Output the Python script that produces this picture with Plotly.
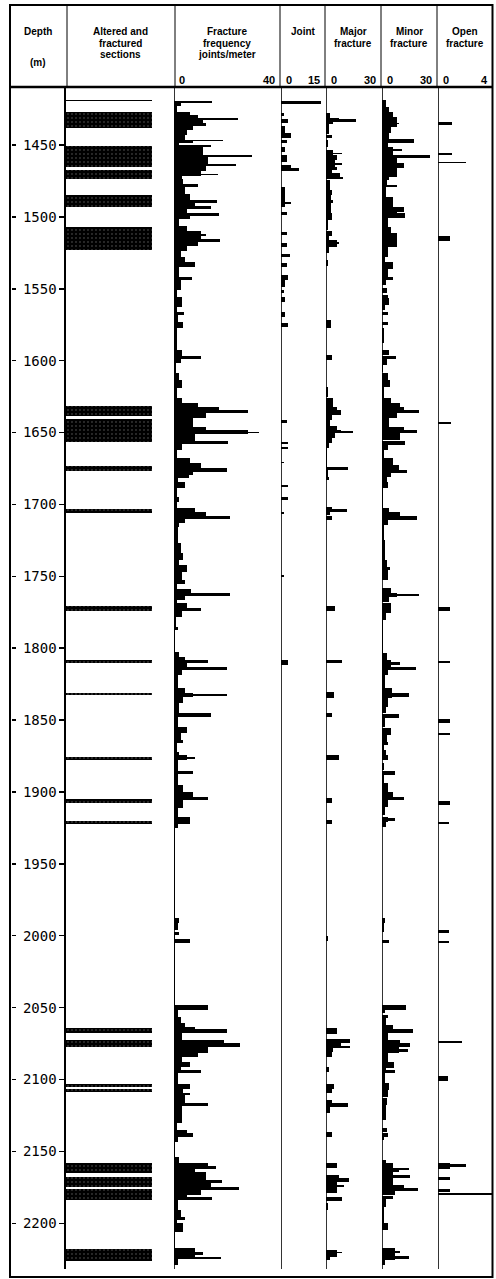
import plotly.graph_objects as go

# ---------------- data (depth in m) ----------------
DEPTH_TICKS = [1450, 1500, 1550, 1600, 1650, 1700, 1750, 1800, 1850, 1900,
               1950, 2000, 2050, 2100, 2150, 2200]

# Altered and fractured sections: (top, bottom)
ALTERED = [
    (1418.5, 1419.4), (1426.8, 1438.4), (1450.7, 1465.5), (1467.4, 1473.6),
    (1484.8, 1492.9), (1506.8, 1523.0), (1631.5, 1638.5), (1640.8, 1656.4),
    (1673.3, 1676.8), (1703.4, 1706.2), (1770.7, 1773.9), (1808.2, 1810.1),
    (1831.4, 1832.8), (1875.4, 1877.8), (1905.1, 1907.4), (1919.9, 1922.3),
    (2064.4, 2067.4), (2072.5, 2077.6), (2103.3, 2105.0), (2106.8, 2108.4),
    (2158.3, 2164.8), (2167.6, 2174.5), (2176.2, 2183.8), (2218.1, 2226.0),
]

# Fracture frequency, joints/meter: (top, bottom, value)
FRAC_FREQ = [
    (1419.1, 1420.9, 14.2), (1420.9, 1423.0, 2.5), (1423.0, 1426.8, 1.0),
    (1426.8, 1429.1, 6), (1429.1, 1431.4, 9), (1431.4, 1432.6, 24.3),
    (1432.6, 1434.8, 11), (1434.8, 1437.1, 12), (1437.1, 1439.5, 7),
    (1439.5, 1442.9, 5), (1442.9, 1446.4, 4), (1446.4, 1447.5, 18.4),
    (1447.5, 1448.4, 7), (1448.4, 1450.0, 2), (1450.0, 1451.2, 14),
    (1451.2, 1457.0, 11), (1457.0, 1458.6, 29.6), (1458.6, 1463.4, 13),
    (1463.4, 1464.6, 23.4), (1464.6, 1468.1, 12), (1468.1, 1471.6, 10),
    (1470.4, 1471.2, 16.7), (1471.6, 1473.9, 3), (1473.9, 1478.5, 3.5),
    (1477.4, 1479.1, 9.2), (1478.5, 1484.3, 4), (1484.3, 1488.2, 6),
    (1488.2, 1490.0, 16.4), (1490.0, 1492.3, 8), (1492.3, 1494.7, 13.8),
    (1494.7, 1497.0, 5), (1497.0, 1499.3, 17), (1499.3, 1501.6, 6),
    (1501.6, 1506.3, 2), (1506.3, 1509.7, 5), (1509.7, 1515.5, 10),
    (1512.2, 1513.2, 12), (1515.5, 1517.8, 17.4), (1517.8, 1520.1, 9),
    (1520.1, 1523.6, 5), (1523.6, 1528.2, 2.5), (1528.2, 1531.2, 4),
    (1531.2, 1535.1, 8), (1535.1, 1541.5, 2), (1541.5, 1543.9, 6.9),
    (1543.9, 1550.8, 2.5), (1550.8, 1555.5, 1), (1555.5, 1562.4, 3),
    (1562.4, 1566.0, 1), (1566.0, 1568.2, 3.6), (1568.2, 1572.8, 1.5),
    (1572.8, 1577.5, 3.5), (1577.5, 1592.5, 1), (1592.5, 1597.0, 3),
    (1597.0, 1599.0, 10), (1599.0, 1601.8, 2.5), (1601.8, 1608.8, 0.8),
    (1608.8, 1613.4, 2), (1613.4, 1619.2, 3.2), (1619.2, 1626.0, 1),
    (1626.0, 1629.6, 3), (1629.6, 1632.0, 9), (1632.0, 1634.3, 17),
    (1634.3, 1636.3, 28), (1636.3, 1640.0, 12), (1640.0, 1645.9, 7),
    (1645.9, 1648.2, 12), (1648.2, 1651.0, 28), (1649.4, 1650.5, 32.2),
    (1651.0, 1655.6, 8), (1655.6, 1658.0, 20.3), (1658.0, 1662.0, 3),
    (1662.0, 1668.0, 1), (1668.0, 1671.4, 6), (1671.4, 1674.9, 10),
    (1674.9, 1677.2, 19.9), (1677.2, 1679.5, 7), (1679.5, 1681.8, 5.8),
    (1681.8, 1684.1, 1.5), (1684.1, 1688.8, 4), (1688.8, 1694.6, 1),
    (1694.6, 1698.0, 2), (1698.0, 1702.7, 1), (1702.7, 1705.0, 8),
    (1705.0, 1708.0, 12), (1708.0, 1710.4, 21), (1710.4, 1713.2, 4),
    (1713.2, 1715.5, 2), (1715.5, 1727.0, 1.5), (1727.0, 1734.0, 2.5),
    (1734.0, 1738.7, 3.5), (1738.7, 1742.2, 2), (1742.2, 1746.8, 5),
    (1746.8, 1752.6, 3), (1752.6, 1755.0, 4), (1755.0, 1759.1, 1),
    (1759.1, 1761.9, 6.5), (1761.9, 1763.7, 21), (1763.7, 1766.5, 4),
    (1766.5, 1768.8, 1), (1768.8, 1772.3, 5), (1772.3, 1774.0, 10),
    (1774.0, 1778.1, 3), (1778.1, 1785.0, 0.8), (1785.0, 1787.4, 1.5),
    (1787.4, 1802.5, 0.5), (1802.5, 1806.0, 2), (1806.0, 1808.3, 4),
    (1808.3, 1810.6, 13), (1810.6, 1812.9, 5), (1812.9, 1815.2, 20),
    (1815.2, 1818.7, 3), (1818.7, 1828.0, 1.5), (1828.0, 1831.4, 4),
    (1831.4, 1834.2, 7), (1832.0, 1833.4, 20), (1834.2, 1838.4, 3.5),
    (1838.4, 1845.4, 2), (1845.4, 1848.1, 14), (1848.1, 1854.6, 1.5),
    (1854.6, 1859.3, 5), (1859.3, 1863.9, 2.5), (1863.9, 1866.2, 3.5),
    (1866.2, 1872.0, 1), (1872.0, 1874.3, 2), (1874.3, 1877.8, 5),
    (1875.4, 1877.1, 8), (1877.8, 1885.2, 1.5), (1885.2, 1887.5, 7),
    (1887.5, 1895.2, 1.5), (1895.2, 1899.8, 3.5), (1899.8, 1903.3, 7),
    (1903.3, 1905.6, 13), (1905.6, 1911.4, 3.5), (1911.4, 1917.2, 1.5),
    (1917.2, 1922.3, 6), (1922.3, 1925.3, 1.5), (1925.3, 1988.0, 0.3),
    (1988.0, 1991.4, 2), (1991.4, 1996.0, 1.5), (1997.2, 1999.5, 2),
    (1999.5, 2002.5, 0.5), (2002.5, 2005.3, 6), (2005.3, 2048.2, 0.3),
    (2048.2, 2051.7, 13), (2051.7, 2056.3, 1.5), (2056.3, 2061.0, 2.5),
    (2061.0, 2063.5, 4), (2063.5, 2065.1, 8), (2065.1, 2067.9, 20),
    (2067.9, 2072.5, 3), (2072.5, 2074.9, 19), (2074.9, 2077.6, 25),
    (2077.6, 2081.8, 13), (2081.8, 2084.1, 9), (2084.1, 2087.6, 3),
    (2087.6, 2091.1, 6), (2091.1, 2093.4, 2.5), (2093.4, 2095.3, 10),
    (2095.3, 2103.1, 1.5), (2103.1, 2106.8, 6), (2106.8, 2109.6, 3.5),
    (2109.6, 2111.0, 6), (2111.0, 2116.1, 4), (2116.1, 2118.4, 13),
    (2118.4, 2127.0, 3), (2127.0, 2130.0, 3), (2130.0, 2135.0, 1),
    (2135.0, 2137.4, 5), (2137.4, 2139.7, 7), (2139.7, 2143.2, 1.5),
    (2143.2, 2153.7, 0.5), (2153.7, 2158.3, 2), (2158.3, 2161.8, 13),
    (2160.5, 2162.5, 16), (2161.8, 2164.0, 8), (2164.0, 2169.9, 12),
    (2169.9, 2172.2, 18), (2172.2, 2174.5, 14), (2174.5, 2176.8, 24.5),
    (2176.8, 2180.2, 10), (2180.2, 2181.9, 5), (2181.9, 2183.8, 14.5),
    (2183.8, 2190.8, 1.5), (2190.8, 2195.4, 2.5), (2195.4, 2197.7, 4),
    (2197.7, 2200.0, 1), (2200.0, 2205.8, 3.5), (2205.8, 2217.4, 0.3),
    (2217.4, 2220.0, 8), (2220.0, 2222.2, 11), (2222.2, 2223.5, 8),
    (2223.5, 2225.0, 17.9), (2225.0, 2229.0, 1.5),
]

# Joint: (top, bottom, value)
JOINT = [
    (1419.1, 1421.4, 13.5), (1427.5, 1429.8, 1), (1432.2, 1434.5, 2.5),
    (1436.8, 1441.5, 1.5), (1441.5, 1445.0, 3.5), (1446.5, 1448.8, 2),
    (1451.2, 1454.6, 1.5), (1457.0, 1461.6, 2), (1463.9, 1466.2, 3.4),
    (1466.2, 1468.1, 6), (1479.0, 1492.9, 1.5), (1489.4, 1491.1, 3.5),
    (1496.5, 1498.8, 2), (1510.4, 1512.7, 2), (1518.5, 1520.8, 2),
    (1525.5, 1527.8, 3), (1532.4, 1534.7, 2), (1540.5, 1543.9, 2.5),
    (1543.9, 1548.5, 1.5), (1550.8, 1553.1, 1), (1555.5, 1559.0, 1.5),
    (1565.9, 1569.4, 1.5), (1574.0, 1576.3, 2.5), (1641.3, 1643.1, 2),
    (1656.3, 1658.0, 2.5), (1659.8, 1661.7, 2.5), (1670.2, 1671.4, 1),
    (1686.5, 1688.1, 2.5), (1695.0, 1696.9, 2.5), (1705.0, 1706.6, 1),
    (1748.9, 1750.2, 1), (1808.3, 1811.7, 2.5),
]

# Major fracture: (top, bottom, value)
MAJOR = [
    (1427.5, 1431.0, 2), (1431.0, 1433.3, 7), (1432.0, 1433.8, 16.4),
    (1433.3, 1435.6, 4), (1435.6, 1442.6, 1.5), (1443.3, 1444.9, 3.5),
    (1446.5, 1451.2, 1), (1453.5, 1457.0, 4), (1455.3, 1456.5, 8.5),
    (1457.0, 1460.4, 6), (1460.4, 1465.5, 5), (1462.2, 1463.6, 8.5),
    (1465.5, 1467.4, 6), (1467.4, 1469.7, 3), (1469.7, 1472.0, 7.5),
    (1472.0, 1473.6, 9.5), (1474.3, 1481.2, 2), (1481.2, 1484.7, 3),
    (1484.7, 1488.2, 2.5), (1488.2, 1490.5, 4), (1490.5, 1497.4, 2.5),
    (1497.4, 1502.0, 3), (1502.0, 1509.0, 1), (1510.1, 1513.6, 3),
    (1513.6, 1516.0, 1.5), (1516.0, 1520.6, 6), (1517.8, 1519.0, 7),
    (1520.6, 1525.3, 1.5), (1529.9, 1534.5, 1), (1571.7, 1577.5, 2.5),
    (1596.0, 1599.5, 3), (1618.0, 1625.0, 1), (1626.2, 1632.0, 4),
    (1632.0, 1634.3, 6), (1634.3, 1637.8, 8), (1637.8, 1641.2, 3),
    (1641.2, 1645.4, 2), (1645.4, 1648.2, 6), (1648.2, 1650.5, 8),
    (1648.7, 1650.3, 14.5), (1650.5, 1654.0, 5), (1654.0, 1657.5, 3.5),
    (1657.5, 1661.0, 1.5), (1661.0, 1673.7, 0.5), (1673.7, 1676.0, 12),
    (1676.0, 1680.7, 1), (1680.7, 1683.0, 1.5), (1701.5, 1703.2, 3),
    (1703.2, 1705.0, 11.3), (1705.0, 1707.3, 2), (1708.0, 1710.8, 3),
    (1770.7, 1774.0, 5), (1808.3, 1810.6, 8.5), (1830.3, 1834.9, 4.5),
    (1845.4, 1847.7, 3.5), (1874.3, 1877.8, 7), (1904.4, 1907.9, 3.5),
    (1919.5, 1922.3, 3), (2000.0, 2004.0, 1), (2064.4, 2068.0, 6),
    (2072.1, 2074.9, 13), (2074.9, 2076.7, 8), (2076.7, 2078.3, 13),
    (2078.3, 2080.6, 4), (2080.6, 2084.1, 3), (2091.1, 2094.6, 1.5),
    (2103.1, 2106.8, 4.5), (2106.8, 2109.6, 3.5), (2114.3, 2116.1, 3.5),
    (2116.1, 2118.9, 12), (2118.9, 2123.5, 2), (2136.3, 2139.7, 3.5),
    (2158.3, 2161.8, 6), (2166.4, 2168.7, 7), (2168.7, 2171.0, 12.5),
    (2171.0, 2179.2, 6), (2173.5, 2175.0, 10), (2181.5, 2184.3, 8.5),
    (2186.1, 2190.8, 1), (2218.6, 2223.2, 6), (2219.8, 2221.0, 8.5),
    (2223.2, 2225.5, 2),
]

# Minor fracture: (top, bottom, value)
MINOR = [
    (1418.7, 1423.3, 2), (1423.3, 1426.8, 4), (1426.8, 1430.3, 6),
    (1430.3, 1437.3, 8), (1434.5, 1435.6, 9), (1437.3, 1441.9, 5),
    (1441.9, 1446.1, 4), (1446.1, 1448.4, 17.5), (1448.4, 1451.2, 3),
    (1451.2, 1457.0, 6), (1453.0, 1454.3, 10.9), (1457.0, 1459.3, 26),
    (1459.3, 1462.8, 8), (1462.8, 1466.2, 12), (1466.2, 1472.0, 8),
    (1472.0, 1474.3, 4), (1474.3, 1477.8, 2.5), (1477.8, 1479.0, 8),
    (1479.0, 1485.9, 2), (1485.9, 1492.9, 6), (1492.9, 1496.5, 12),
    (1496.5, 1497.6, 8), (1497.6, 1501.1, 12.5), (1501.1, 1506.9, 3),
    (1506.9, 1511.5, 5), (1511.5, 1520.8, 8), (1520.8, 1527.8, 3),
    (1527.8, 1531.2, 1.5), (1531.2, 1535.9, 6), (1535.9, 1541.5, 3),
    (1541.5, 1543.9, 6), (1543.9, 1547.3, 2), (1549.6, 1553.1, 2.5),
    (1554.3, 1556.6, 3), (1556.6, 1561.2, 4), (1561.2, 1564.7, 1.5),
    (1565.9, 1568.2, 3), (1572.8, 1575.2, 3.5), (1577.5, 1588.0, 1),
    (1592.5, 1596.0, 4), (1596.7, 1599.0, 7.5), (1599.0, 1603.0, 2.5),
    (1603.0, 1607.6, 0.5), (1608.8, 1613.4, 3), (1613.4, 1618.0, 4.5),
    (1618.0, 1626.2, 1), (1626.2, 1629.6, 5), (1629.6, 1632.0, 10),
    (1632.0, 1634.3, 12), (1634.3, 1636.6, 20), (1636.6, 1640.1, 8),
    (1640.1, 1645.9, 4), (1645.9, 1648.2, 12), (1648.2, 1650.5, 19),
    (1650.5, 1655.2, 10), (1655.6, 1658.6, 12.5), (1658.6, 1662.1, 3),
    (1662.1, 1667.9, 1), (1667.9, 1672.6, 6), (1672.6, 1676.0, 9),
    (1676.0, 1678.4, 13.5), (1678.4, 1680.7, 5), (1680.7, 1684.1, 2.5),
    (1684.1, 1688.8, 3), (1688.8, 1702.7, 0.5), (1702.7, 1705.0, 4),
    (1705.0, 1708.0, 10), (1708.0, 1710.8, 19), (1710.8, 1714.3, 3),
    (1714.3, 1724.7, 1), (1724.7, 1738.7, 1.5), (1738.7, 1743.3, 2.5),
    (1743.3, 1745.7, 4.5), (1745.7, 1752.6, 3), (1758.4, 1761.9, 5),
    (1761.9, 1764.7, 8), (1762.5, 1764.0, 20), (1764.7, 1767.7, 4),
    (1768.8, 1775.8, 5), (1775.8, 1780.4, 2), (1780.4, 1803.6, 0.3),
    (1803.6, 1808.3, 2.5), (1808.3, 1812.9, 5), (1809.4, 1811.7, 10),
    (1812.9, 1815.2, 18.5), (1815.2, 1818.7, 3), (1818.7, 1828.0, 1.5),
    (1828.0, 1834.9, 5.5), (1831.4, 1834.2, 14.5), (1834.9, 1840.7, 3),
    (1840.7, 1845.4, 2), (1845.8, 1848.8, 9), (1848.8, 1854.6, 1.5),
    (1855.8, 1860.4, 5), (1860.4, 1865.1, 2.5), (1865.1, 1867.4, 3.5),
    (1867.4, 1870.8, 1), (1870.8, 1874.3, 2), (1874.3, 1877.8, 3),
    (1880.1, 1884.7, 1), (1885.2, 1888.2, 7), (1888.2, 1894.0, 1),
    (1894.0, 1899.8, 3.5), (1899.8, 1903.3, 6), (1903.3, 1905.6, 12),
    (1905.6, 1910.2, 3), (1910.2, 1916.0, 1.5), (1917.2, 1920.7, 3),
    (1918.3, 1920.0, 7), (1920.7, 1924.1, 2), (1988.0, 1991.4, 1.5),
    (1991.4, 1997.2, 1), (2003.0, 2005.3, 4), (2048.2, 2051.7, 13),
    (2051.7, 2054.0, 1.5), (2055.2, 2057.5, 3.5), (2057.5, 2062.1, 2),
    (2062.1, 2065.1, 6), (2065.1, 2067.9, 17), (2067.9, 2072.5, 3),
    (2072.5, 2074.9, 10), (2074.9, 2077.2, 15), (2077.2, 2081.8, 9),
    (2079.0, 2080.6, 14), (2081.8, 2087.6, 3), (2087.6, 2092.2, 6.5),
    (2092.2, 2095.7, 2), (2093.4, 2095.3, 7), (2095.7, 2102.7, 1.5),
    (2102.7, 2107.3, 4), (2107.3, 2112.0, 3), (2113.1, 2117.7, 2.5),
    (2117.7, 2128.2, 2), (2133.9, 2136.3, 2.5), (2137.4, 2139.7, 3.5),
    (2139.7, 2142.0, 1), (2156.0, 2158.3, 2), (2158.3, 2161.8, 6),
    (2161.8, 2164.1, 9), (2161.8, 2163.0, 14.5), (2164.1, 2166.4, 6),
    (2166.4, 2168.7, 15.5), (2168.7, 2173.4, 6), (2173.4, 2177.0, 12),
    (2175.4, 2177.2, 19.5), (2177.0, 2180.4, 7), (2181.0, 2183.3, 6),
    (2183.3, 2188.4, 2), (2188.4, 2200.0, 1), (2200.0, 2204.7, 3),
    (2217.4, 2221.0, 7), (2219.5, 2220.8, 10), (2221.0, 2222.7, 7),
    (2222.7, 2224.6, 14.5), (2224.6, 2225.5, 7), (2225.5, 2229.0, 1.5),
]

# Open fracture: (top, bottom, value)
OPEN = [
    (1434.3, 1435.9, 1.0), (1455.3, 1457.0, 1.0), (1461.8, 1462.8, 2.06),
    (1513.3, 1516.6, 0.85), (1642.4, 1644.0, 0.95), (1771.2, 1774.0, 0.85),
    (1808.7, 1810.6, 0.85), (1849.5, 1851.8, 0.9), (1858.8, 1860.7, 0.9),
    (1906.0, 1909.0, 0.9), (1920.7, 1922.3, 0.8), (1996.0, 1997.9, 0.8),
    (2003.7, 2005.3, 0.8), (2073.2, 2074.9, 1.75), (2097.6, 2100.8, 0.7),
    (2158.3, 2162.5, 0.9), (2158.8, 2160.6, 2.0), (2167.6, 2169.9, 0.9),
    (2176.0, 2178.5, 0.9), (2178.7, 2180.0, 4.0),
]

COL_TITLES = [
    ["Depth", "", "(m)"],
    ["Altered and", "fractured", "sections"],
    ["Fracture", "frequency", "joints/meter"],
    ["Joint"],
    ["Major", "fracture"],
    ["Minor", "fracture"],
    ["Open", "fracture"],
]
SCALE_LABELS = [("0", "40"), ("0", "15"), ("0", "30"), ("0", "30"), ("0", "4")]
SCALE_MAX = [40, 15, 30, 30, 4]

# ---------------- layout geometry (pixels) ----------------
W, H = 496, 1279
LEFT, RIGHT, TOP, BOTTOM = 10, 492.5, 5, 1277
HEAD_BOT = 87
DATA_TOP, DATA_BOT = 88, 1269
D_TOP, D_BOT = 1410.35, 2231.8
HEAD_X = [67, 175, 280, 325, 381, 437]
COL_PX = [(66, 174), (174, 280), (281, 325), (326, 381), (382, 437), (438, 493)]
ALT_FULL = 152  # right end of altered bars


def px(x):
    return x / W


def py(y):
    return 1 - y / H


fig = go.Figure()
BLACK = "black"

# altered sections (value 1 = altered)
fig.add_trace(go.Bar(
    orientation="h",
    y=[(t + b) / 2 for t, b in ALTERED],
    x=[1 for _ in ALTERED],
    width=[b - t for t, b in ALTERED],
    base=0,
    xaxis="x", yaxis="y",
    marker=dict(color=BLACK, line=dict(width=0),
                pattern=dict(shape=".", fgcolor="#dddddd", bgcolor=BLACK,
                             size=4, solidity=0.08, fillmode="overlay")),
    showlegend=False, hoverinfo="skip",
))

series = [FRAC_FREQ, JOINT, MAJOR, MINOR, OPEN]
for i, data in enumerate(series):
    ax = "x%d" % (i + 2)
    fig.add_trace(go.Bar(
        orientation="h",
        y=[(t + b) / 2 for t, b, v in data],
        x=[v for t, b, v in data],
        width=[b - t for t, b, v in data],
        base=0,
        xaxis=ax, yaxis="y",
        marker=dict(color=BLACK, line=dict(width=0)),
        showlegend=False, hoverinfo="skip",
    ))

# dummy trace for the left-border tick axis
fig.add_trace(go.Scatter(x=[None], y=[None], xaxis="x", yaxis="y2",
                         showlegend=False, hoverinfo="skip"))

ydom = [py(DATA_BOT), py(DATA_TOP)]
layout = dict(
    width=W, height=H, autosize=False,
    margin=dict(l=0, r=0, t=0, b=0, pad=0),
    paper_bgcolor="white", plot_bgcolor="rgba(0,0,0,0)",
    barmode="overlay", bargap=0, bargroupgap=0,
    yaxis=dict(domain=ydom, range=[D_BOT, D_TOP], type="linear",
               anchor="x", side="left",
               showline=True, linecolor=BLACK, linewidth=1.6,
               ticks="outside", ticklen=5, tickwidth=1.5, tickcolor=BLACK,
               tickvals=DEPTH_TICKS, ticktext=[str(t) for t in DEPTH_TICKS],
               tickfont=dict(family="DejaVu Sans Mono", size=14, color=BLACK),
               showgrid=False, zeroline=False),
    yaxis2=dict(domain=ydom, range=[D_BOT, D_TOP], type="linear",
                overlaying="y", anchor="free", position=px(LEFT + 0.5), side="left",
                showline=False, ticks="inside", ticklen=4, tickwidth=1.5,
                tickcolor=BLACK, tickvals=DEPTH_TICKS, showticklabels=False,
                showgrid=False, zeroline=False),
)
ranges = [[0, (COL_PX[0][1] - COL_PX[0][0]) / (ALT_FULL - COL_PX[0][0])]] + \
         [[0, m] for m in SCALE_MAX]
for i, (x0, x1) in enumerate(COL_PX):
    key = "xaxis" if i == 0 else "xaxis%d" % (i + 1)
    layout[key] = dict(domain=[px(x0), px(x1)], range=ranges[i], anchor="y",
                       visible=False, fixedrange=True)
fig.update_layout(**layout)

shapes = []
# outer frame
shapes.append(dict(type="rect", xref="paper", yref="paper",
                   x0=px(LEFT), x1=px(RIGHT), y0=py(BOTTOM), y1=py(TOP),
                   line=dict(color=BLACK, width=2)))
# header bottom
shapes.append(dict(type="line", xref="paper", yref="paper",
                   x0=px(LEFT), x1=px(RIGHT), y0=py(HEAD_BOT), y1=py(HEAD_BOT),
                   line=dict(color=BLACK, width=2.5)))
# header column separators
for hx in HEAD_X:
    shapes.append(dict(type="line", xref="paper", yref="paper",
                       x0=px(hx), x1=px(hx), y0=py(HEAD_BOT), y1=py(TOP),
                       line=dict(color=BLACK, width=1)))
# baselines of each log track
for i in range(2, 7):
    shapes.append(dict(type="line", xref="x%d" % i, yref="paper",
                       x0=0, x1=0, y0=ydom[0], y1=ydom[1],
                       line=dict(color=BLACK, width=1.6)))
fig.update_layout(shapes=shapes)

# header text
ann = []
col_centers = [38, 120, 227, 303, 353, 409, 465]
line_y = [31.5, 43.2, 55]
hfont = dict(family="Liberation Sans", size=10, color=BLACK)
for cx, lines in zip(col_centers, COL_TITLES):
    for j, txt in enumerate(lines):
        if not txt:
            continue
        yy = line_y[j] if not (cx == 38 and j == 2) else 62
        ann.append(dict(xref="paper", yref="paper", x=px(cx), y=py(yy),
                        text="<b>%s</b>" % txt, showarrow=False,
                        xanchor="center", yanchor="middle", font=hfont))
sfont = dict(family="Liberation Sans", size=11, color=BLACK)
for (x0, x1), (lo, hi) in zip(COL_PX[1:], SCALE_LABELS):
    ann.append(dict(xref="paper", yref="paper", x=px(x0 + 3), y=py(80),
                    text="<b>%s</b>" % lo, showarrow=False,
                    xanchor="left", yanchor="middle", font=sfont))
    ann.append(dict(xref="paper", yref="paper", x=px(min(x1, RIGHT) - 3), y=py(80),
                    text="<b>%s</b>" % hi, showarrow=False,
                    xanchor="right", yanchor="middle", font=sfont))
fig.update_layout(annotations=ann)

fig.write_html(
    "out.html",
    config={"displayModeBar": False, "staticPlot": True},
    post_script="document.body.style.margin='0px';"
                "document.body.style.padding='0px';"
                "document.body.style.overflow='hidden';",
)
